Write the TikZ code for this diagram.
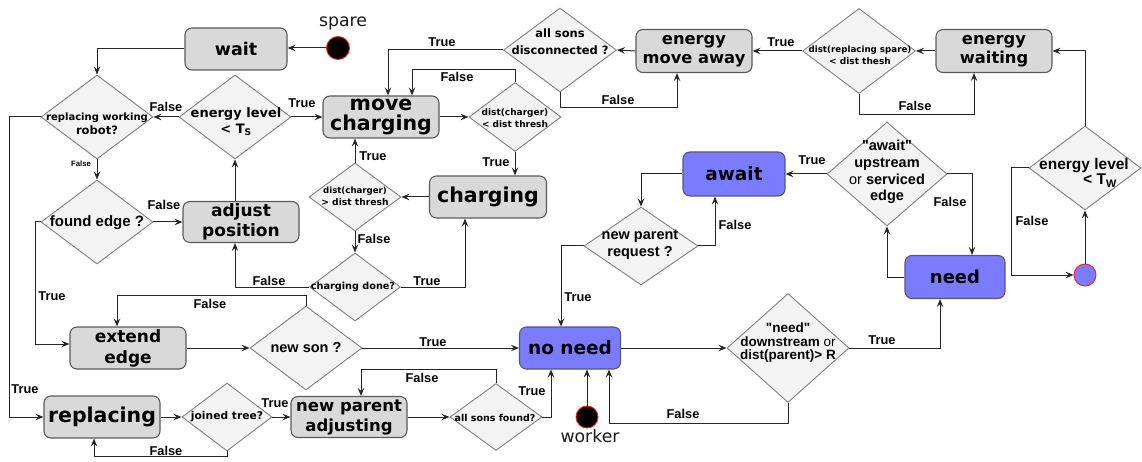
\documentclass[tikz,border=0pt]{standalone}
\usepackage{fontspec}
\setmainfont{DejaVu Sans}
\newfontfamily\dvs{DejaVu Sans}
\newfontfamily\lis{Liberation Sans}
\usetikzlibrary{shapes.geometric,arrows.meta}

\definecolor{boxfill}{HTML}{D9D9D9}
\definecolor{boxline}{HTML}{5A5A5A}
\definecolor{diafill}{HTML}{F3F3F3}
\definecolor{dialine}{HTML}{808080}
\definecolor{bluefill}{HTML}{7B7BFF}
\definecolor{blueline}{HTML}{55557A}
\definecolor{wirec}{HTML}{262626}
\definecolor{dotred}{HTML}{FF1A1A}

\newcommand\fsz[2]{\fontsize{#1}{#2}\selectfont}

\tikzset{
  box/.style={draw=boxline, fill=boxfill, rounded corners=7pt, line width=1.1pt,
              inner sep=0pt, align=center},
  bbox/.style={box, draw=blueline, fill=bluefill},
  dia/.style={diamond, draw=dialine, fill=diafill, line width=0.9pt, inner sep=0pt},
  dtxt/.style={inner sep=0pt, align=center},
  tf/.style={inner sep=0pt, font=\lis\bfseries\fsz{12.8}{14}},
  wire/.style={draw=wirec, line width=1pt, -{Stealth[length=8pt,width=6.5pt,inset=3pt]}},
  dot/.style={circle, draw=dotred, line width=0.9pt, inner sep=0pt, minimum size=23pt},
}

\begin{document}
\begin{tikzpicture}[x=1pt,y=-1pt]
\useasboundingbox (0,0) rectangle (1142,462);

% ---------- state boxes ----------
\node[box, minimum width=102pt, minimum height=42pt, font=\dvs\bfseries\fsz{17.5}{21}] (wait) at (236,49) {wait};
\node[box, minimum width=116pt, minimum height=42pt, font=\dvs\bfseries\fsz{20.5}{20.5}] (mc) at (381,117) {move\\charging};
\node[box, minimum width=116pt, minimum height=43pt, font=\dvs\bfseries\fsz{16.3}{19}] (emove) at (694,51) {energy\\move away};
\node[box, minimum width=116pt, minimum height=43pt, font=\dvs\bfseries\fsz{16.3}{19}] (ewait) at (994,51) {energy\\waiting};
\node[box, minimum width=117pt, minimum height=42pt, font=\dvs\bfseries\fsz{20.5}{22}] (chg) at (488,197) {charging};
\node[box, minimum width=116pt, minimum height=41pt, font=\dvs\bfseries\fsz{17}{20}] (adj) at (241,222) {adjust\\position};
\node[box, minimum width=116pt, minimum height=42pt, font=\dvs\bfseries\fsz{17}{21}] (ext) at (128,348) {extend\\edge};
\node[box, minimum width=116pt, minimum height=42pt, font=\dvs\bfseries\fsz{20.5}{22}] (repl) at (102,417) {replacing};
\node[box, minimum width=116pt, minimum height=41pt, font=\dvs\bfseries\fsz{16.5}{20}] (npa) at (349,417) {new parent\\adjusting};

\node[bbox, minimum width=102pt, minimum height=44pt, font=\dvs\bfseries\fsz{18.5}{21}] (await) at (734,174) {await};
\node[bbox, minimum width=101pt, minimum height=42pt, font=\dvs\bfseries\fsz{18.5}{21}] (noneed) at (570,348) {no need};
\node[bbox, minimum width=100pt, minimum height=43pt, font=\dvs\bfseries\fsz{18}{21}] (need) at (955,277) {need};

% ---------- decisions ----------
\node[dia, minimum width=112pt, minimum height=84pt] (rwr) at (97,117) {};
\node[dtxt, font=\dvs\bfseries\fsz{10}{14}] (rwr-t) at (97,124) {replacing working\\\fsz{11.5}{14}robot?};

\node[dia, minimum width=112pt, minimum height=84pt] (elTs) at (235,117) {};
\node[dtxt, font=\dvs\bfseries\fsz{13}{15.5}] (elTs-t) at (236,122) {energy level\\< T\textsubscript{S}};

\node[dia, minimum width=92pt, minimum height=69pt] (dlt) at (515,117) {};
\node[dtxt, font=\dvs\bfseries\fsz{9}{12}] (dlt-t) at (515,118) {dist(charger)\\< dist thresh};

\node[dia, minimum width=113pt, minimum height=84pt] (asd) at (560,50) {};
\node[dtxt, font=\dvs\bfseries\fsz{11.5}{17}] (asd-t) at (560,42) {all sons\\disconnected ?};

\node[dia, minimum width=113pt, minimum height=85pt] (drs) at (859,51) {};
\node[dtxt, font=\dvs\bfseries\fsz{8.7}{12}] (drs-t) at (860,55) {dist(replacing spare)\\\fsz{9}{12}< dist thesh};

\node[dia, minimum width=112pt, minimum height=84pt] (elTw) at (1085,168) {};
\node[dtxt, font=\lis\bfseries\fsz{15.5}{13.5}] (elTw-t) at (1084,173) {energy level\\\hspace*{32pt}< T\textsubscript{W}};

\node[dia, minimum width=112pt, minimum height=84pt] (fe) at (97,222) {};
\node[dtxt, font=\lis\bfseries\fsz{15}{17}] (fe-t) at (97,223) {found edge ?};

\node[dia, minimum width=92pt, minimum height=68pt] (dgt) at (355,197) {};
\node[dtxt, font=\dvs\bfseries\fsz{9}{12}] (dgt-t) at (355,196) {\fsz{8.6}{12}dist(charger)\\\fsz{9.2}{12}> dist thresh};

\node[dia, minimum width=91pt, minimum height=68pt] (cd) at (355,287) {};
\node[dtxt, font=\dvs\bfseries\fsz{9.7}{12}] (cd-t) at (353,287) {charging done?};

\node[dia, minimum width=114pt, minimum height=78pt] (npr) at (641,246) {};
\node[dtxt, font=\lis\bfseries\fsz{14.5}{17}] (npr-t) at (640,245) {new parent\\request ?};

\node[dia, minimum width=112pt, minimum height=84pt] (ns) at (306,348) {};
\node[dtxt, font=\lis\bfseries\fsz{14.5}{17}] (ns-t) at (306,348) {new son ?};

\node[dia, minimum width=90pt, minimum height=68pt] (jt) at (227,417) {};
\node[dtxt, font=\dvs\bfseries\fsz{10.7}{13}] (jt-t) at (227,417) {joined tree?};

\node[dia, minimum width=92pt, minimum height=67pt] (asf) at (496,417) {};
\node[dtxt, font=\dvs\bfseries\fsz{9.5}{12}] (asf-t) at (495,418) {all sons found?};

\node[dia, minimum width=120pt, minimum height=104pt] (awd) at (887,174) {};
\node[dtxt, font=\lis\bfseries\fsz{14.5}{16.8}] (awd-t) at (887,172) {"await"\\upstream\\{\mdseries or} serviced\\edge};

\node[dia, minimum width=122pt, minimum height=109pt] (nd) at (788,348) {};
\node[dtxt, font=\lis\bfseries\fsz{13.5}{13.5}] (nd-t) at (788,343) {"need"\\downstream {\mdseries or}\\dist(parent)> R};

% ---------- start points ----------
\node[dot, fill=black] (spare) at (338,48) {};
\node[inner sep=0pt, font=\dvs\fsz{17.3}{20}, text=black!90] (spare-l) at (343,23) {spare};
\node[dot, fill=black, minimum size=22pt] (worker) at (587,417) {};
\node[inner sep=0pt, font=\dvs\fsz{17.3}{20}, text=black!90] (worker-l) at (590,436) {worker};
\node[dot, fill=bluefill, minimum size=22pt] (bluec) at (1085,275) {};

% ---------- off-centre docking points ----------
\coordinate (mc-a) at ([xshift=31pt]mc.north);
\coordinate (mc-b) at ([xshift=7pt]mc.north);
\coordinate (em-a) at ([xshift=-17pt]emove.south);
\coordinate (ew-a) at ([xshift=-20pt]ewait.south);
\coordinate (adj-s) at ([xshift=-6pt]adj.south);
\coordinate (chg-s) at ([xshift=-23pt]chg.south);
\coordinate (ext-n) at ([xshift=-11pt]ext.north);
\coordinate (ext-w) at ([yshift=4pt]ext.west);
\coordinate (repl-s) at ([xshift=-8pt]repl.south);
\coordinate (npa-n) at ([xshift=12pt]npa.north);
\coordinate (nn-n) at ([xshift=-9pt]noneed.north);
\coordinate (nn-s1) at ([xshift=-19pt]noneed.south);
\coordinate (nn-s2) at ([xshift=39pt]noneed.south);
\coordinate (need-s) at ([xshift=-15pt]need.south);
\coordinate (need-n) at ([xshift=17pt]need.north);
\coordinate (await-s) at ([xshift=-19pt]await.south);

% ---------- connectors ----------
\draw[wire] (spare.west) -- (spare.west -| wait.east);
\draw[wire] (wait.west) -| (rwr.north);
\draw[wire] (elTs.west) -- (rwr.east);
\draw[wire] (elTs.east) -- (mc.west);
\draw[wire] (rwr.west) -- ++(-31,0) |- (repl.west);
\draw[wire] (rwr.south) -- (fe.north);
\draw[wire] (fe.east) -- (adj.west);
\draw[wire] (fe.west) -- ++(-5,0) |- (ext-w);
\draw[wire] (adj.north -| elTs.south) -- (elTs.south);
\draw[wire] (mc.east) -- (dlt.west);
\draw[wire] (dlt.north) -- ++(0,-13) -| (mc-a);
\draw[wire] (dlt.south) -- (dlt.south |- chg.north);
\draw[wire] (asd.west) -| (mc-b);
\draw[wire] (asd.south) -- ++(0,15) -| (em-a);
\draw[wire] (emove.west) -- (asd.east);
\draw[wire] (drs.west) -- (emove.east);
\draw[wire] (drs.south) -- ++(0,21) -| (ew-a);
\draw[wire] (ewait.west) -- (drs.east);
\draw[wire] (elTw.north) |- (ewait.east);
\draw[wire] (elTw.west) -- ++(-17,0) |- (bluec.west);
\draw[wire] (bluec.north) -- (elTw.south);
\draw[wire] (chg.west) -- (dgt.east);
\draw[wire] (dgt.north) -- (dgt.north |- mc.south);
\draw[wire] (dgt.south) -- (cd.north);
\draw[wire] (cd.west) -| (adj-s);
\draw[wire] (cd.east) -| (chg-s);
\draw[wire] (ext.east) -- (ns.west);
\draw[wire] (ns.north) -- ++(0,-10) -| (ext-n);
\draw[wire] (ns.east) -- (noneed.west);
\draw[wire] (repl.east) -- (jt.west);
\draw[wire] (jt.east) -- (npa.west);
\draw[wire] (jt.south) -- ++(0,5) -| (repl-s);
\draw[wire] (npa.east) -- (asf.west);
\draw[wire] (asf.north) -- ++(0,-14) -| (npa-n);
\draw[wire] (asf.east) -| (nn-s1);
\draw[wire] (worker.north) -- (worker.north |- noneed.south);
\draw[wire] (noneed.east) -- (nd.west);
\draw[wire] (nd.south) -- ++(0,21) -| (nn-s2);
\draw[wire] (nd.east) -| (need-s);
\draw[wire] (need.west) -| (awd.south);
\draw[wire] (awd.west) -- (await.east);
\draw[wire] (awd.east) -| (need-n);
\draw[wire] (await.west) -| (npr.north);
\draw[wire] (npr.east) -| (await-s);
\draw[wire] (npr.west) -| (nn-n);

% ---------- branch labels ----------
\node[tf] (l1) at (166,107) {False};
\node[tf] (l2) at (302,103) {True};
\node[tf] (l3) at (25,389) {True};
\node[tf, font=\lis\bfseries\fsz{7.7}{9}] (l4) at (81,164) {False};
\node[tf] (l5) at (164,205) {False};
\node[tf] (l6) at (52,296) {True};
\node[tf] (l7) at (457,77) {False};
\node[tf] (l8) at (496,162) {True};
\node[tf] (l9) at (442,42) {True};
\node[tf] (l10) at (618,100) {False};
\node[tf] (l11) at (781,42) {True};
\node[tf] (l12) at (915,106) {False};
\node[tf] (l13) at (1032,221) {False};
\node[tf] (l14) at (373,156) {True};
\node[tf] (l15) at (374,239) {False};
\node[tf] (l16) at (269,281) {False};
\node[tf] (l17) at (427,281) {True};
\node[tf] (l18) at (210,304) {False};
\node[tf] (l19) at (433,342) {True};
\node[tf] (l20) at (275,403) {True};
\node[tf] (l21) at (166,451) {False};
\node[tf] (l22) at (422,378) {False};
\node[tf] (l23) at (532,391) {True};
\node[tf] (l24) at (683,414) {False};
\node[tf] (l25) at (882,340) {True};
\node[tf] (l26) at (812,160) {True};
\node[tf] (l27) at (950,202) {False};
\node[tf] (l28) at (735,225) {False};
\node[tf] (l29) at (578,297) {True};
\end{tikzpicture}
\end{document}
